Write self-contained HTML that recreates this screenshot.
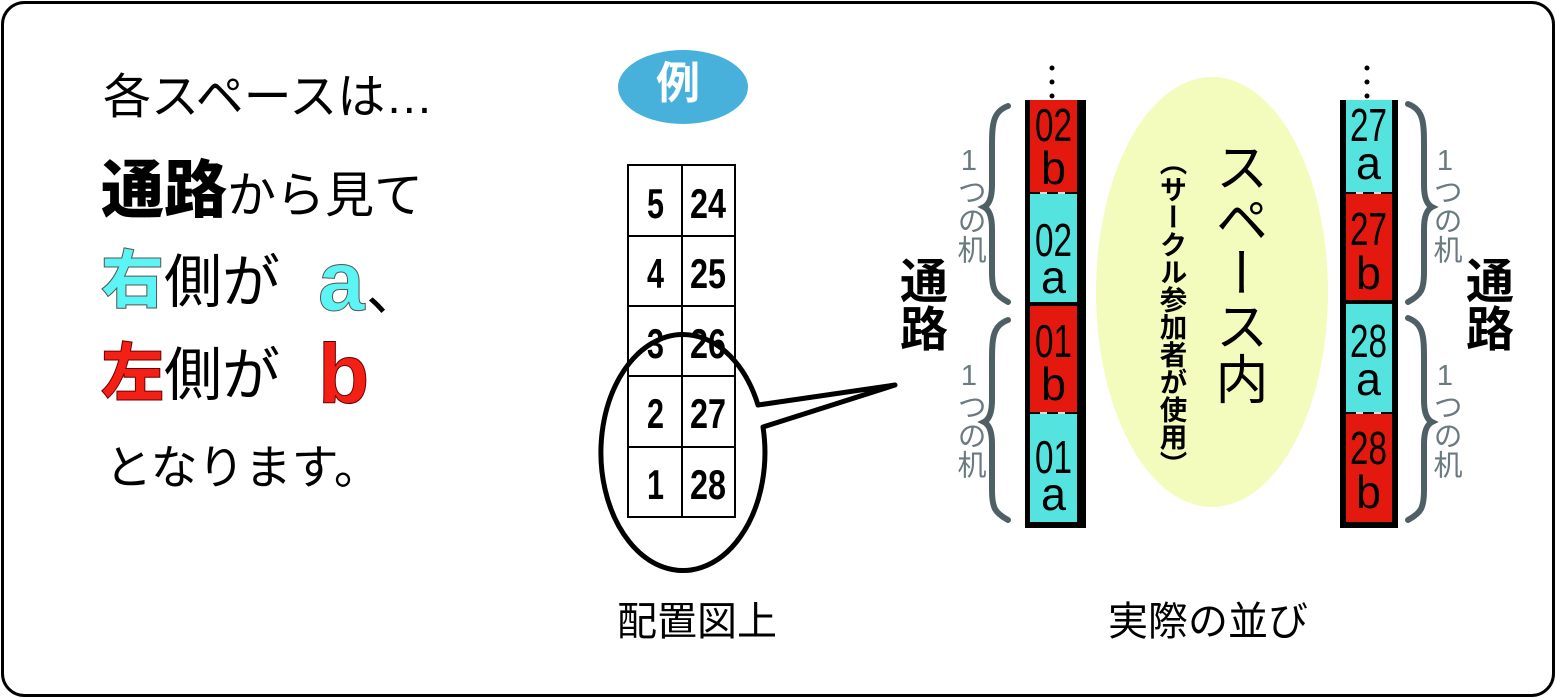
<!DOCTYPE html>
<html><head><meta charset="utf-8"><style>
html,body{margin:0;padding:0;background:#fff;}
#c{position:relative;width:1556px;height:698px;overflow:hidden;font-family:"Liberation Sans","Noto Sans CJK JP",sans-serif;}
.a{position:absolute;white-space:nowrap;line-height:1;}
.v{writing-mode:vertical-rl;text-orientation:upright;}
</style></head><body><div id="c">
<svg width="1556" height="698" style="position:absolute;left:0;top:0">
<rect x="2.5" y="2.5" width="1551" height="693" rx="22" fill="#fff" stroke="#000" stroke-width="3"/>
<ellipse cx="683" cy="87" rx="65" ry="37" fill="#47b1dc"/>
<g stroke="#000" stroke-width="2" fill="none">
<rect x="628" y="165" width="107" height="352"/>
<line x1="682" y1="165" x2="682" y2="517"/>
<line x1="628" y1="236" x2="735" y2="236"/>
<line x1="628" y1="306" x2="735" y2="306"/>
<line x1="628" y1="376" x2="735" y2="376"/>
<line x1="628" y1="447" x2="735" y2="447"/>
</g>
<g font-family="'Liberation Sans',sans-serif" font-weight="bold" font-size="42">
<text x="647" y="218" textLength="17" lengthAdjust="spacingAndGlyphs">5</text><text x="690" y="218" textLength="36" lengthAdjust="spacingAndGlyphs">24</text>
<text x="647" y="288" textLength="17" lengthAdjust="spacingAndGlyphs">4</text><text x="690" y="288" textLength="36" lengthAdjust="spacingAndGlyphs">25</text>
<text x="647" y="358" textLength="17" lengthAdjust="spacingAndGlyphs">3</text><text x="690" y="358" textLength="36" lengthAdjust="spacingAndGlyphs">26</text>
<text x="647" y="428" textLength="17" lengthAdjust="spacingAndGlyphs">2</text><text x="690" y="428" textLength="36" lengthAdjust="spacingAndGlyphs">27</text>
<text x="647" y="499" textLength="17" lengthAdjust="spacingAndGlyphs">1</text><text x="690" y="499" textLength="36" lengthAdjust="spacingAndGlyphs">28</text>
</g>
<path d="M758,405 L895,385 L763,427 A82,118 0 1 1 758,405 Z" fill="none" stroke="#000" stroke-width="5" stroke-linejoin="round"/>
<ellipse cx="1212" cy="292" rx="116" ry="215" fill="#f3fcbd"/>
<rect x="1025" y="100" width="61" height="428" fill="#000"/>
<rect x="1030" y="100" width="47" height="92" fill="#e3190f"/>
<rect x="1030" y="194" width="47" height="108" fill="#55e3e0"/>
<rect x="1030" y="306" width="47" height="106" fill="#e3190f"/>
<rect x="1030" y="414" width="47" height="108" fill="#55e3e0"/>
<rect x="1340" y="100" width="58" height="428" fill="#000"/>
<rect x="1346" y="100" width="46" height="92" fill="#55e3e0"/>
<rect x="1346" y="194" width="46" height="106" fill="#e3190f"/>
<rect x="1346" y="304" width="46" height="108" fill="#55e3e0"/>
<rect x="1346" y="414" width="46" height="108" fill="#e3190f"/>
<g fill="#ddd"><rect x="1040" y="192" width="7" height="2"/><rect x="1058" y="192" width="7" height="2"/><rect x="1040" y="412" width="7" height="2"/><rect x="1058" y="412" width="7" height="2"/>
<rect x="1356" y="192" width="7" height="2"/><rect x="1374" y="192" width="7" height="2"/><rect x="1356" y="412" width="7" height="2"/><rect x="1374" y="412" width="7" height="2"/></g>
<g fill="#000"><circle cx="1052" cy="68" r="2.5"/><circle cx="1052" cy="82" r="2.5"/><circle cx="1052" cy="96" r="2.5"/>
<circle cx="1367" cy="68" r="2.5"/><circle cx="1367" cy="82" r="2.5"/><circle cx="1367" cy="96" r="2.5"/></g>
<g font-family="'Liberation Sans',sans-serif" font-size="46">
<text x="1035" y="141" textLength="37" lengthAdjust="spacingAndGlyphs">02</text><text x="1041" y="184" textLength="25" lengthAdjust="spacingAndGlyphs">b</text>
<text x="1035" y="256" textLength="37" lengthAdjust="spacingAndGlyphs">02</text><text x="1041" y="293" textLength="25" lengthAdjust="spacingAndGlyphs">a</text>
<text x="1035" y="357" textLength="37" lengthAdjust="spacingAndGlyphs">01</text><text x="1041" y="400" textLength="25" lengthAdjust="spacingAndGlyphs">b</text>
<text x="1035" y="473" textLength="37" lengthAdjust="spacingAndGlyphs">01</text><text x="1041" y="510" textLength="25" lengthAdjust="spacingAndGlyphs">a</text>
<text x="1350" y="141" textLength="37" lengthAdjust="spacingAndGlyphs">27</text><text x="1356" y="179" textLength="25" lengthAdjust="spacingAndGlyphs">a</text>
<text x="1350" y="245" textLength="37" lengthAdjust="spacingAndGlyphs">27</text><text x="1356" y="289" textLength="25" lengthAdjust="spacingAndGlyphs">b</text>
<text x="1350" y="357" textLength="37" lengthAdjust="spacingAndGlyphs">28</text><text x="1356" y="395" textLength="25" lengthAdjust="spacingAndGlyphs">a</text>
<text x="1350" y="464" textLength="37" lengthAdjust="spacingAndGlyphs">28</text><text x="1356" y="508" textLength="25" lengthAdjust="spacingAndGlyphs">b</text>
</g>
<g fill="none" stroke="#4f5f66" stroke-width="6" stroke-linecap="round">
<path d="M1008,106 C992,112 992,125 992,150 L992,185 C992,200 988,205 984,207 C988,209 992,214 992,229 L992,272 C992,290 995,295 1008,302"/>
<path d="M1008,320 C992,326 992,339 992,364 L992,400 C992,415 988,420 984,422 C988,424 992,429 992,444 L992,490 C992,508 995,513 1008,520"/>
<path d="M1408,104 C1424,110 1424,123 1424,148 L1424,185 C1424,200 1428,205 1432,207 C1428,209 1424,214 1424,229 L1424,272 C1424,290 1421,295 1408,302"/>
<path d="M1408,318 C1424,324 1424,337 1424,362 L1424,400 C1424,415 1428,420 1432,422 C1428,424 1424,429 1424,444 L1424,490 C1424,508 1421,513 1408,520"/>
</g>
<text x="318" y="310" font-family="'Liberation Sans',sans-serif" font-weight="bold" font-size="84" fill="#5cf5f5" stroke="#555" stroke-width="1">a</text>
<text x="366" y="310" font-family="'Liberation Sans','Noto Sans CJK JP',sans-serif" font-size="56">、</text>
<text x="318" y="403" font-family="'Liberation Sans',sans-serif" font-weight="bold" font-size="84" fill="#f42016" stroke="#600" stroke-width="1">b</text>
</svg>
<div class="a" style="left:103px;top:74px;font-size:48px;">各スペースは<span style="letter-spacing:-4px">…</span></div>
<div class="a" style="left:101px;top:160px;font-size:49px;"><span style="font-size:63px;font-weight:900;">通路</span>から見て</div>
<div class="a" style="left:101px;top:250px;font-size:58px;"><span style="font-size:63px;font-weight:900;color:#5cf5f5;-webkit-text-stroke:1px #555;">右</span>側が</div>
<div class="a" style="left:101px;top:343px;font-size:58px;"><span style="font-size:63px;font-weight:900;color:#f42016;-webkit-text-stroke:1px #600;">左</span>側が</div>
<div class="a" style="left:105px;top:444px;font-size:47px;">となります。</div>
<div class="a" style="left:656px;top:62px;font-size:44px;font-weight:bold;color:#fff;">例</div>
<div class="a" style="left:617px;top:602px;font-size:40px;">配置図上</div>
<div class="a" style="left:1108px;top:602px;font-size:40px;">実際の並び</div>
<div class="a v" style="left:894px;top:256px;font-size:48px;font-weight:bold;">通路</div>
<div class="a v" style="left:1460px;top:256px;font-size:48px;font-weight:bold;">通路</div>
<div class="a v" style="left:954px;top:145px;font-size:29px;color:#6a7a80;">1つの机</div>
<div class="a v" style="left:954px;top:360px;font-size:29px;color:#6a7a80;">1つの机</div>
<div class="a v" style="left:1430px;top:145px;font-size:29px;color:#6a7a80;">1つの机</div>
<div class="a v" style="left:1430px;top:360px;font-size:29px;color:#6a7a80;">1つの机</div>
<div class="a v" style="left:1211px;top:140px;font-size:53px;">スペース内</div>
<div class="a v" style="left:1157px;top:148px;font-size:27.5px;font-weight:bold;">（サークル参加者が使用）</div>
</div></body></html>
